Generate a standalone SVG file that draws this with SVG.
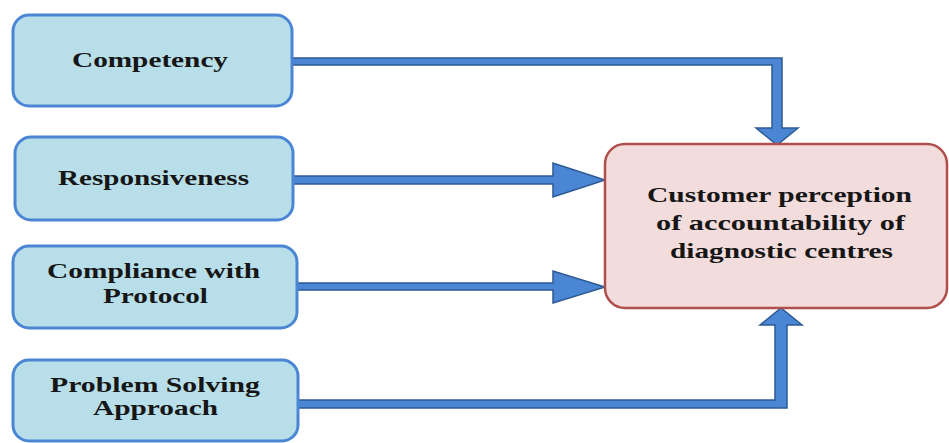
<svg xmlns="http://www.w3.org/2000/svg" width="949" height="443" viewBox="0 0 949 443">
<style>
.src rect{fill:#b8dfe9;stroke:#4a86d4;stroke-width:3}
.dst rect{fill:#f3dcdc;stroke:#b0504e;stroke-width:2.5}
text{font-family:"Liberation Serif","Times New Roman",serif;font-weight:bold;font-size:22px;fill:#161616}
.conn polygon{fill:#4a86d4;stroke:#2d5a92;stroke-width:1.5;stroke-linejoin:miter}
</style>
<rect width="949" height="443" fill="#ffffff"/>
<g id="connectors" class="conn">
<polygon points="292,58 782,58 782,128 798,128 777,145 756,128 772,128 772,65 292,65"/>
<polygon points="292,176 553,176 553,163 605,180 553,197 553,184 292,184"/>
<polygon points="297,283 553,283 553,271 605,287 553,303 553,290 297,290"/>
<polygon points="298,400 775,400 775,325 760,325 781,308 802,325 787,325 787,408 298,408"/>
</g>
<g id="competency" class="src">
<rect x="13" y="15" width="279" height="91" rx="16"/>
<text x="72" y="67" textLength="156" lengthAdjust="spacingAndGlyphs">Competency</text>
</g>
<g id="responsiveness" class="src">
<rect x="15" y="137" width="278" height="83" rx="16"/>
<text x="58" y="185" textLength="191" lengthAdjust="spacingAndGlyphs">Responsiveness</text>
</g>
<g id="compliance" class="src">
<rect x="13" y="246" width="284" height="82" rx="16"/>
<text x="47" y="278" textLength="213" lengthAdjust="spacingAndGlyphs">Compliance with</text>
<text x="103" y="303" textLength="105" lengthAdjust="spacingAndGlyphs">Protocol</text>
</g>
<g id="problem-solving" class="src">
<rect x="13" y="360" width="285" height="81" rx="16"/>
<text x="50" y="392" textLength="210" lengthAdjust="spacingAndGlyphs">Problem Solving</text>
<text x="93" y="415" textLength="125" lengthAdjust="spacingAndGlyphs">Approach</text>
</g>
<g id="customer-perception" class="dst">
<rect x="605" y="144" width="342" height="164" rx="20"/>
<text x="647" y="202" textLength="265" lengthAdjust="spacingAndGlyphs">Customer perception</text>
<text x="656" y="230" textLength="249" lengthAdjust="spacingAndGlyphs">of accountability of</text>
<text x="670" y="258" textLength="223" lengthAdjust="spacingAndGlyphs">diagnostic centres</text>
</g>
</svg>
